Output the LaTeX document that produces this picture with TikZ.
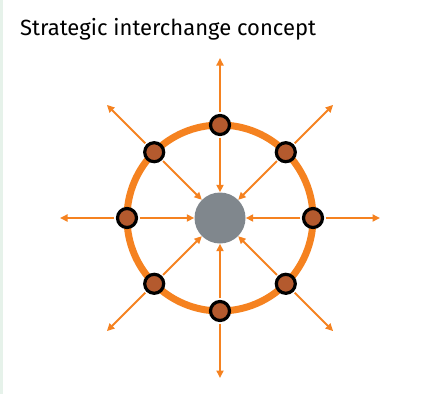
\documentclass[tikz,border=0pt]{standalone}
\usepackage{fontspec}
\setmainfont{Fira Sans}
\usetikzlibrary{arrows.meta}
\definecolor{ringorange}{HTML}{F58220}
\definecolor{stopbrown}{HTML}{B45A2E}
\definecolor{hubgrey}{HTML}{80878D}
\definecolor{edgegreen}{HTML}{E6F2EA}

\begin{document}
\begin{tikzpicture}[x=1pt, y=-1pt,
		stop/.style={circle, draw=black, line width=3.2pt, fill=stopbrown, minimum size=19pt, inner sep=0pt},
		hub/.style={circle, fill=hubgrey, minimum size=51pt, inner sep=0pt},
		spoke/.style={line width=1.8pt, color=ringorange, shorten <=1.5pt, -{Triangle[length=7.5pt, width=7pt]}}]
			%%%%% START %%%%%
			\useasboundingbox (0, 0) rectangle (446, 394);
			\fill[edgegreen] (0, 0) rectangle (3, 394);
			
			\node[anchor=base west, inner sep=0pt, font=\fontsize{22}{26}\selectfont] (title) at (20, 35) {Strategic interchange concept};
			
			\draw[line width=7pt, color=ringorange] (220, 218) circle [radius=93pt];
			
			\node[hub] (hub) at (220, 218) {};
			
			\node[stop] (n) at (220, 125) {};
			\node[stop] (ne) at (285.8, 152.2) {};
			\node[stop] (e) at (313, 218) {};
			\node[stop] (se) at (285.8, 283.8) {};
			\node[stop] (s) at (220, 311) {};
			\node[stop] (sw) at (154.2, 283.8) {};
			\node[stop] (w) at (127, 218) {};
			\node[stop] (nw) at (154.2, 152.2) {};
			
			\coordinate (nout) at (220, 58);
			\coordinate (neout) at (333.1, 104.9);
			\coordinate (eout) at (380, 218);
			\coordinate (seout) at (333.1, 331.1);
			\coordinate (sout) at (220, 378);
			\coordinate (swout) at (106.9, 331.1);
			\coordinate (wout) at (60, 218);
			\coordinate (nwout) at (106.9, 104.9);
			
			\draw[spoke] (n) -- (nout);
			\draw[spoke] (ne) -- (neout);
			\draw[spoke] (e) -- (eout);
			\draw[spoke] (se) -- (seout);
			\draw[spoke] (s) -- (sout);
			\draw[spoke] (sw) -- (swout);
			\draw[spoke] (w) -- (wout);
			\draw[spoke] (nw) -- (nwout);
			
			\draw[spoke] (n) -- (hub);
			\draw[spoke] (ne) -- (hub);
			\draw[spoke] (e) -- (hub);
			\draw[spoke] (se) -- (hub);
			\draw[spoke] (s) -- (hub);
			\draw[spoke] (sw) -- (hub);
			\draw[spoke] (w) -- (hub);
			\draw[spoke] (nw) -- (hub);
			%%%%% END %%%%%
\end{tikzpicture}
\end{document}
